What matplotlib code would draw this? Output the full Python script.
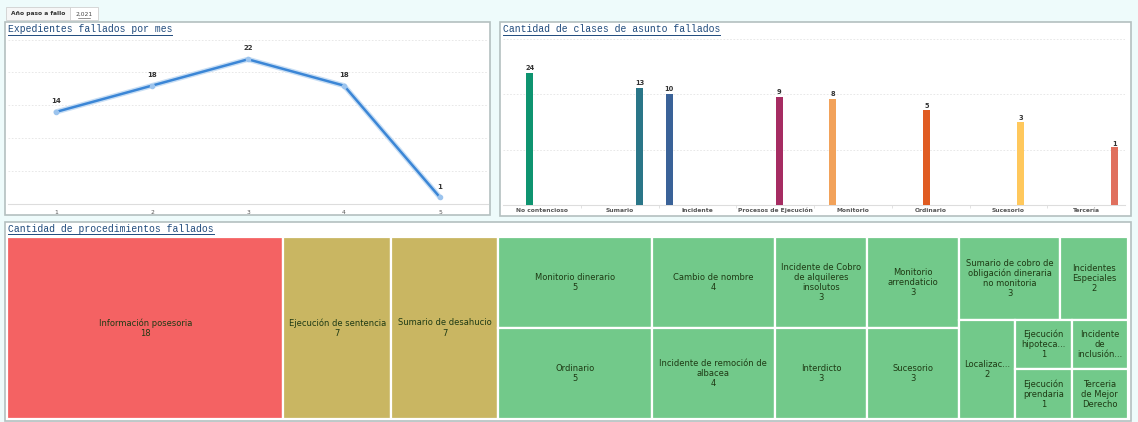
import matplotlib
matplotlib.use("Agg")
import matplotlib.pyplot as plt
from matplotlib.patches import Rectangle

W, H = 1138, 422

# ---- data ----
meses = [1, 2, 3, 4, 5]
expedientes = [14, 18, 22, 18, 1]

clases = ["No contencioso", "Sumario", "Incidente", "Procesos de Ejecución",
          "Monitorio", "Ordinario", "Sucesorio", "Tercería"]
clases_valores = [24, 13, 10, 9, 8, 5, 3, 1]
clases_colores = ["#0E9470", "#2A7688", "#3A6298", "#A62C62",
                  "#F2A25A", "#E05C22", "#FFC85C", "#E0705E"]

proc_nombres = ["Información posesoria", "Ejecución de sentencia", "Sumario de desahucio",
                "Monitorio dinerario", "Ordinario", "Cambio de nombre",
                "Incidente de remoción de\nalbacea", "Incidente de Cobro\nde alquileres\ninsolutos",
                "Interdicto", "Monitorio\narrendaticio", "Sucesorio",
                "Sumario de cobro de\nobligación dineraria\nno monitoria",
                "Incidentes\nEspeciales", "Localizac...", "Ejecución\nhipoteca...",
                "Ejecución\nprendaria", "Incidente\nde\ninclusión...", "Terceria\nde Mejor\nDerecho"]
proc_valores = [18, 7, 7, 5, 5, 4, 4, 3, 3, 3, 3, 3, 2, 2, 1, 1, 1, 1]
proc_mostrar_valor = [True] * 16 + [False, False]


def box(x0, y0, x1, y1):
    return [x0 / W, 1 - y1 / H, (x1 - x0) / W, (y1 - y0) / H]


def squarify(vals, x, y, w, h):
    # squarified treemap layout (Bruls et al.)
    total = float(sum(vals))
    areas = [v / total * w * h for v in vals]
    rects = []

    def worst(row, side):
        s = sum(row)
        return max(max(side * side * r / (s * s), s * s / (side * side * r)) for r in row)

    i = 0
    while i < len(areas):
        side = min(w, h)
        row = [areas[i]]
        j = i + 1
        while j < len(areas) and worst(row + [areas[j]], side) <= worst(row, side):
            row.append(areas[j])
            j += 1
        s = sum(row)
        if w >= h:
            cw = s / h
            cy = y
            for a in row:
                rh = a / cw
                rects.append((x, cy, cw, rh))
                cy += rh
            x += cw
            w -= cw
        else:
            rh = s / w
            cx = x
            for a in row:
                rw = a / rh
                rects.append((cx, y, rw, rh))
                cx += rw
            y += rh
            h -= rh
        i = j
    return rects


fig = plt.figure(figsize=(W / 100, H / 100), dpi=100)
fig.patch.set_facecolor("#EEFBFB")

# background layer for panels
bg = fig.add_axes([0, 0, 1, 1])
bg.set_xlim(0, W)
bg.set_ylim(H, 0)
bg.axis("off")

for (x0, y0, x1, y1) in [(5, 22, 490, 215), (500, 22, 1131, 216), (5, 222, 1131, 421)]:
    bg.add_patch(Rectangle((x0, y0), x1 - x0, y1 - y0, facecolor="white",
                           edgecolor="#B4C0C0", lw=1.2))

# filter tab
bg.add_patch(Rectangle((6, 7), 64, 13, facecolor="#F6F6F6", edgecolor="#D0D0D0", lw=0.6))
bg.add_patch(Rectangle((70, 7), 28, 13, facecolor="white", edgecolor="#D0D0D0", lw=0.6))
bg.text(38, 14, "Año paso a fallo", fontsize=4.3, ha="center", va="center",
        color="#333333", fontweight="bold")
bg.text(84, 14, "2,021", fontsize=4.3, ha="center", va="center", color="#444444")
bg.plot([78, 90], [17.5, 17.5], color="#444444", lw=0.4)

titles = [(8, 29, "Expedientes fallados por mes"),
          (503, 29, "Cantidad de clases de asunto fallados"),
          (8, 229, "Cantidad de procedimientos fallados")]
title_objs = []
for tx, ty, tt in titles:
    t = bg.text(tx, ty, tt, fontsize=7.0, family="Liberation Mono", color="#1F4A7C",
                ha="left", va="center")
    title_objs.append(t)

# ---- line chart ----
ax1 = fig.add_axes(box(8, 33, 488, 204))
ax1.plot(meses, expedientes, color="#C8DEF4", lw=3.8, solid_capstyle="round", zorder=2)
ax1.plot(meses, expedientes, color="#3B86D6", lw=1.8, marker="o", ms=3,
         mfc="#9CC4EE", mec="#9CC4EE", zorder=3)
for m, v in zip(meses, expedientes):
    ax1.text(m, v + 1.2, str(v), ha="center", va="bottom", fontsize=5,
             fontweight="bold", color="#333333")
ax1.set_xlim(0.5, 5.5)
ax1.set_ylim(0, 26)
ax1.set_yticks([5, 10, 15, 20, 25])
ax1.set_yticklabels([])
ax1.tick_params(axis="y", length=0)
ax1.set_xticks(meses)
ax1.tick_params(axis="x", length=0, labelsize=4.3, labelcolor="#555555", pad=4)
ax1.grid(axis="y", color="#E4E4E4", lw=0.6, ls=(0, (2, 2)))
for s in ["top", "right", "left"]:
    ax1.spines[s].set_visible(False)
ax1.spines["bottom"].set_color("#DDDDDD")
ax1.patch.set_alpha(0)

# ---- grouped bar chart (series in alphabetical order) ----
ax2 = fig.add_axes(box(503, 33, 1125, 205))
orden = sorted(clases)
n = len(orden)
slot = 0.104
for ci, (c, v, col) in enumerate(zip(clases, clases_valores, clases_colores)):
    k = orden.index(c)
    xpos = ci + (k - (n - 1) / 2) * slot
    ax2.bar(xpos, v, width=0.09, bottom=0.1, color=col, zorder=3)
    ax2.text(xpos, v * 1.1, str(v), ha="center", va="bottom", fontsize=4.8,
             fontweight="bold", color="#333333")
ax2.set_yscale("log")
ax2.set_ylim(0.1, 128)
ax2.set_xlim(-0.5, n - 0.5)
ax2.set_yticks([1, 10, 100])
ax2.set_yticks([], minor=True)
ax2.set_yticklabels([])
ax2.tick_params(axis="y", length=0)
ax2.set_xticks(range(n))
ax2.set_xticklabels(clases)
ax2.tick_params(axis="x", length=0, labelsize=4.3, labelcolor="#555555", pad=2)
for lab in ax2.get_xticklabels():
    lab.set_fontweight("bold")
ax2.set_xticks([i + 0.5 for i in range(n - 1)], minor=True)
ax2.tick_params(axis="x", which="minor", length=2, color="#DDDDDD")
ax2.grid(axis="y", color="#E4E4E4", lw=0.6, ls=(0, (2, 2)))
for s in ["top", "right", "left"]:
    ax2.spines[s].set_visible(False)
ax2.spines["bottom"].set_color("#DDDDDD")
ax2.patch.set_alpha(0)

# ---- treemap ----
ax3 = fig.add_axes(box(7, 237, 1128, 419))
tw, th = 1121.0, 182.0
ax3.set_xlim(0, tw)
ax3.set_ylim(th, 0)
ax3.axis("off")
rects = squarify(proc_valores, 0, 0, tw, th)
for (rx, ry, rw, rh), nm, v, show in zip(rects, proc_nombres, proc_valores, proc_mostrar_valor):
    if v >= 10:
        fc = "#F46263"
    elif v >= 6:
        fc = "#C9B662"
    else:
        fc = "#72C98A"
    ax3.add_patch(Rectangle((rx, ry), rw, rh, facecolor=fc, edgecolor="white", lw=1.6))
    label = nm + ("\n" + str(v) if show else "")
    ax3.text(rx + rw / 2, ry + rh / 2, label, ha="center", va="center", fontsize=6,
             color="#1E3A14", linespacing=1.15)

# underline titles
fig.canvas.draw()
r = fig.canvas.get_renderer()
inv = bg.transData.inverted()
for t in title_objs:
    bb = t.get_window_extent(r)
    (x0, y0), (x1, y1) = inv.transform([(bb.x0, bb.y0), (bb.x1, bb.y1)])
    bg.plot([x0, x1], [y0 + 0.5, y0 + 0.5], color="#1F4A7C", lw=0.7)

fig.savefig("out.png", dpi=100, facecolor=fig.get_facecolor())
